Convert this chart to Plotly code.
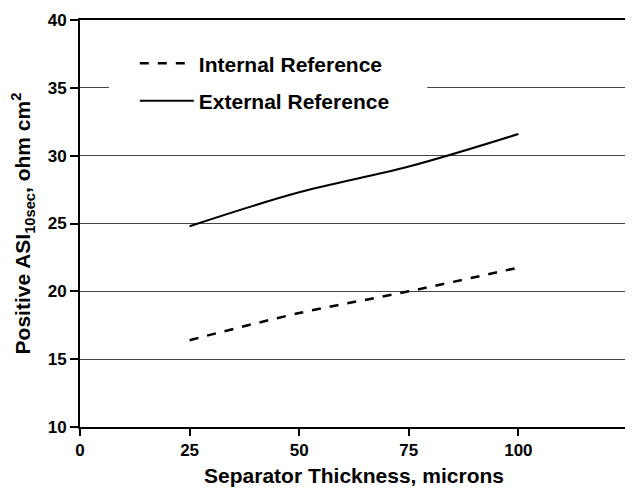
import plotly.graph_objects as go

thickness = [25, 50, 75, 100]
internal_ref = [16.4, 18.4, 20.0, 21.75]
external_ref = [24.8, 27.3, 29.2, 31.6]

x_ticks = [0, 25, 50, 75, 100, 125]
y_ticks = [10, 15, 20, 25, 30, 35, 40]

font_family = "Liberation Sans, Arial, sans-serif"

fig = go.Figure()
fig.add_trace(go.Scatter(x=thickness, y=internal_ref, mode="lines",
                         name="Internal Reference", legendgroup="a",
                         line=dict(color="black", width=2.5, dash="dash", shape="spline")))
fig.add_trace(go.Scatter(x=thickness, y=external_ref, mode="lines",
                         name="External Reference", legendgroup="b",
                         line=dict(color="black", width=2, shape="spline")))

# white block behind the legend hiding part of the 35 gridline
fig.add_shape(type="rect", xref="x", yref="y", x0=6.6, x1=79.2, y0=33.3, y1=38.3,
              fillcolor="white", line=dict(width=0), layer="between")

# page body has an 8px margin, so the figure is sized to fit the window
fig.update_layout(
    width=625, height=482,
    margin=dict(l=72, r=3, t=10, b=63),
    paper_bgcolor="white", plot_bgcolor="white",
    font=dict(family=font_family, color="black", size=17),
    showlegend=True,
    legend=dict(x=0.10, y=0.943, xanchor="left", yanchor="top",
                bgcolor="rgba(255,255,255,0)", borderwidth=0,
                font=dict(size=21, family=font_family, color="black", weight="bold"),
                itemwidth=54, tracegroupgap=7),
)
fig.update_xaxes(range=[0, 125], tickvals=x_ticks, ticktext=[str(v) for v in x_ticks],
                 showgrid=False, zeroline=False,
                 showline=True, linecolor="black", linewidth=2, mirror=True,
                 ticks="outside", ticklen=7, tickwidth=2, tickcolor="black",
                 tickfont=dict(size=17, weight="bold"),
                 title=dict(text="Separator Thickness, microns",
                            font=dict(size=21, weight="bold"), standoff=9))
fig.update_yaxes(range=[10, 40], tickvals=y_ticks, ticktext=[str(v) for v in y_ticks],
                 showgrid=True, gridcolor="#444444", gridwidth=1, zeroline=False,
                 showline=True, linecolor="black", linewidth=2, mirror=True,
                 ticks="outside", ticklen=8, tickwidth=2, tickcolor="black",
                 tickfont=dict(size=17, weight="bold"),
                 title=dict(text="Positive ASI<sub>10sec</sub>, ohm cm<sup>2</sup>",
                            font=dict(size=21, weight="bold"), standoff=11))

fig.write_html("out.html")
